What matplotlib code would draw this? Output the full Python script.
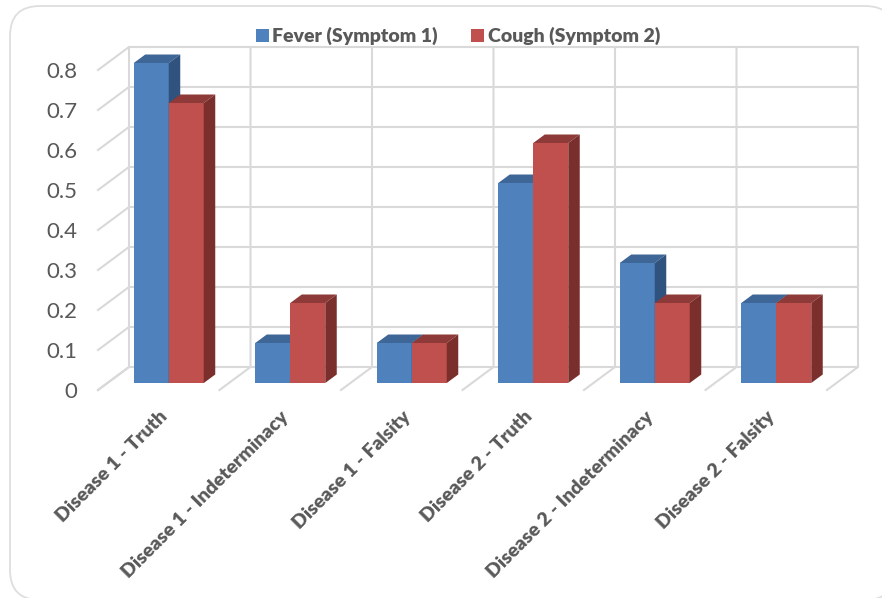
"""Faux-3D clustered column chart, fever vs cough per disease component."""

from __future__ import annotations

import matplotlib

matplotlib.use("Agg")
import matplotlib.pyplot as plt
from matplotlib.patches import FancyBboxPatch, Polygon

categories = [
    "Disease 1 - Truth",
    "Disease 1 - Indeterminacy",
    "Disease 1 - Falsity",
    "Disease 2 - Truth",
    "Disease 2 - Indeterminacy",
    "Disease 2 - Falsity",
]
fever = [0.8, 0.1, 0.1, 0.5, 0.3, 0.2]
cough = [0.7, 0.2, 0.1, 0.6, 0.2, 0.2]
y_ticks = [0, 0.1, 0.2, 0.3, 0.4, 0.5, 0.6, 0.7, 0.8]
y_tick_labels = ["0", "0.1", "0.2", "0.3", "0.4", "0.5", "0.6", "0.7", "0.8"]

W, H = 882, 598
GRID = "#D9D9D9"
TEXT = "#595959"

# depth of the fake 3D box, in data units
WALL_DX, WALL_DY = 31 / 121.5, 23 / 400
BAR_DX, BAR_DY = 11.5 / 121.5, 8.5 / 400
PLANE_DX, PLANE_DY = 10 / 121.5, 7 / 400
BAR_W = 35 / 121.5


def draw_bar(ax, x, value, front, top, side):
    left = x + PLANE_DX
    right = left + BAR_W
    y0 = PLANE_DY
    y1 = value + PLANE_DY
    bars = ax.bar(left, value, BAR_W, bottom=y0, align="edge", color=front,
                  clip_on=False, zorder=3)
    ax.add_patch(Polygon([(left, y1), (right, y1), (right + BAR_DX, y1 + BAR_DY),
                          (left + BAR_DX, y1 + BAR_DY)], closed=True, facecolor=top,
                         edgecolor="none", clip_on=False, zorder=3))
    ax.add_patch(Polygon([(right, y0), (right + BAR_DX, y0 + BAR_DY),
                          (right + BAR_DX, y1 + BAR_DY), (right, y1)], closed=True,
                         facecolor=side, edgecolor="none", clip_on=False, zorder=3))
    return bars


def main() -> None:
    plt.rcParams["font.family"] = ["Lato", "DejaVu Sans"]
    fig = plt.figure(figsize=(W / 100, H / 100), dpi=100, facecolor="white")

    # outer rounded frame, runs off the right and bottom edges
    fig.add_artist(FancyBboxPatch((10 + 30, H - 600 + 30), 885 - 60, 594 - 60,
                                  boxstyle="round,pad=30,rounding_size=30",
                                  facecolor="white", edgecolor="#DEDEDE", linewidth=1.3,
                                  transform=None, zorder=-1))

    ax = fig.add_axes([98 / W, 1 - 390 / H, 729 / W, 320 / H])
    ax.patch.set_visible(False)
    ax.set_xlim(0, 6)
    ax.set_ylim(0, 0.8)
    for spine in ax.spines.values():
        spine.set_visible(False)

    n = len(categories)
    for v in y_ticks:
        ax.plot([0, WALL_DX, n + WALL_DX], [v, v + WALL_DY, v + WALL_DY], color=GRID,
                lw=1.5, clip_on=False, zorder=1, solid_joinstyle="miter")
    for i in range(n + 1):
        ax.plot([i, i + WALL_DX, i + WALL_DX], [0, WALL_DY, 0.8 + WALL_DY], color=GRID,
                lw=1.5, clip_on=False, zorder=1, solid_joinstyle="miter")

    blue = red = None
    for i in range(n):
        start = i + 0.5 - BAR_W
        blue = draw_bar(ax, start, fever[i], "#4F81BD", "#3E6696", "#2F527F")
        red = draw_bar(ax, start + BAR_W, cough[i], "#C0504D", "#8E3A38", "#7A2F2D")

    ax.set_yticks(y_ticks)
    ax.set_yticklabels(y_tick_labels, fontsize=16, color=TEXT)
    ax.set_xticks([i + 0.5 for i in range(n)])
    ax.set_xticklabels(categories, rotation=45, ha="right", rotation_mode="anchor",
                       fontsize=14, fontweight=800, color=TEXT)
    ax.tick_params(axis="y", length=0, pad=15)
    ax.tick_params(axis="x", length=0, pad=13)

    legend_font = {"size": 14, "weight": 800}
    ax.legend([blue, red], ["Fever (Symptom 1)", "Cough (Symptom 2)"], ncol=2,
              loc="center", bbox_to_anchor=((458 - 98) / 729, (390 - 36) / 320),
              frameon=False, prop=legend_font, labelcolor=TEXT, handlelength=0.65,
              handleheight=0.65, handletextpad=0.2, columnspacing=1.7,
              borderaxespad=0, borderpad=0)

    fig.savefig("out.png", dpi=100)


if __name__ == "__main__":
    main()
